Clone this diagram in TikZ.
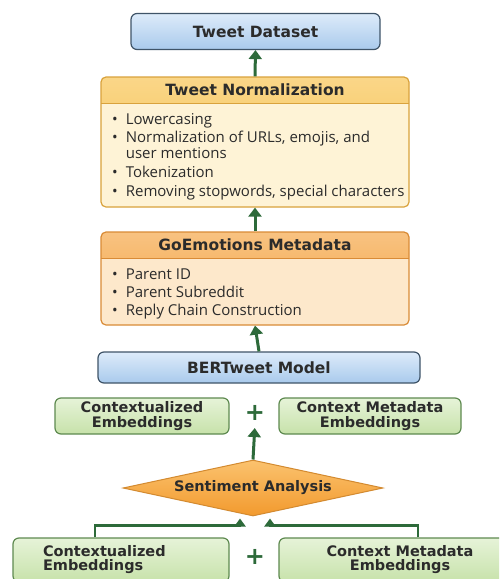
\documentclass[tikz,border=0pt]{standalone}
\usepackage{fontspec}
\setmainfont{Open Sans}
\newfontfamily\headfont{DejaVu Sans}
\usetikzlibrary{arrows.meta,positioning,shapes.geometric,calc}

\definecolor{blueTop}{HTML}{DDEBFA}
\definecolor{blueBot}{HTML}{A9CAEC}
\definecolor{blueLine}{HTML}{3F5468}
\definecolor{yelHead}{HTML}{F7C048}
\definecolor{yelBody}{HTML}{FEF3D6}
\definecolor{yelLine}{HTML}{D9A23C}
\definecolor{orgHead}{HTML}{F4A23E}
\definecolor{orgBody}{HTML}{FDE8CB}
\definecolor{orgLine}{HTML}{D98B36}
\definecolor{grnTop}{HTML}{E6F3D8}
\definecolor{grnBot}{HTML}{C7E2AA}
\definecolor{grnLine}{HTML}{5E8A50}
\definecolor{diaTop}{HTML}{FBC26E}
\definecolor{diaBot}{HTML}{F29A2E}
\definecolor{diaLine}{HTML}{D38A30}
\definecolor{arrGrn}{HTML}{2D6A3A}
\definecolor{inkDark}{HTML}{2B2B2B}

\begin{document}
\begin{tikzpicture}[x=1pt, y=-1pt,
    bluebox/.style={draw=blueLine, line width=1.2pt, rounded corners=6pt,
                    top color=blueTop, bottom color=blueBot, text=inkDark,
                    font=\headfont\bfseries\fontsize{15.5}{18}\selectfont},
    grnbox/.style={draw=grnLine, line width=1.2pt, rounded corners=6pt,
                   top color=grnTop, bottom color=grnBot, align=center, text=inkDark,
                   font=\headfont\bfseries\fontsize{14.5}{15}\selectfont},
    hdrbox/.style n args={3}{draw=#3, fill=#2, line width=1.2pt, rounded corners=5pt,
                   path picture={
                     \fill[top color=#1!65!white, bottom color=#1, sharp corners]
                       (path picture bounding box.north west) rectangle
                       ([yshift=-26pt]path picture bounding box.north east);
                     \draw[#3, line width=0.8pt]
                       ([yshift=-26pt]path picture bounding box.north west) --
                       ([yshift=-26pt]path picture bounding box.north east);}},
    title/.style={text=inkDark, font=\headfont\bfseries\fontsize{15.5}{18}\selectfont},
    list/.style={anchor=base west, inner sep=0pt, text=inkDark,
                 font=\fontsize{15}{15}\selectfont},
    decide/.style={diamond, draw=diaLine, line width=1pt, top color=diaTop,
                   bottom color=diaBot, inner sep=0pt, aspect=4.6, text=inkDark,
                   font=\headfont\bfseries\fontsize{14.5}{16}\selectfont},
    plus/.style={text=arrGrn, font=\headfont\bfseries\fontsize{24}{24}\selectfont},
    arr/.style={-{Triangle[width=13pt,length=9pt]}, line width=3pt, draw=arrGrn},
    link/.style={-{Triangle[width=11pt,length=8pt]}, line width=2.5pt, draw=arrGrn},
  ]
    \useasboundingbox (0,0) rectangle (499,579);
    \clip (0,0) rectangle (499,579);
    \fill[white] (0,0) rectangle (499,579);

    % preprocessing chain
    \node[bluebox, minimum width=249, minimum height=36] (ds) at (255.5,31.5) {Tweet Dataset};

    \node[hdrbox={yelHead}{yelBody}{yelLine}, minimum width=308, minimum height=130] (norm) at (255,142) {};
    \node[title] (normt) at (255,90) {Tweet Normalization};
    \node[list] (norml) at (112,124) {\begin{tabular}[t]{@{}l@{\hspace{8pt}}l@{}}
        \textbullet & Lowercasing\\[3pt]
        \textbullet & Normalization of URLs, emojis, and\\
                    & user mentions\\[3pt]
        \textbullet & Tokenization\\[3pt]
        \textbullet & Removing stopwords, special characters
      \end{tabular}};

    \node[hdrbox={orgHead}{orgBody}{orgLine}, minimum width=308, minimum height=93] (goe) at (255,278.5) {};
    \node[title] (goet) at (255,245) {GoEmotions Metadata};
    \node[list] (goel) at (112,279) {\begin{tabular}[t]{@{}l@{\hspace{8pt}}l@{}}
        \textbullet & Parent ID\\[2.5pt]
        \textbullet & Parent Subreddit\\[2.5pt]
        \textbullet & Reply Chain Construction
      \end{tabular}};

    \node[bluebox, minimum width=322, minimum height=31] (bert) at (259,367.5) {BERTweet Model};

    % embeddings and analysis
    \node[grnbox, minimum width=174, minimum height=36] (emb1l) at (142,416) {Contextualized\\Embeddings};
    \node[plus] (plus1) at (255,413) {+};
    \node[grnbox, minimum width=182, minimum height=36] (emb1r) at (370,416) {Context Metadata\\Embeddings};

    \node[decide, minimum width=260, minimum height=56] (sa) at (253,488) {Sentiment Analysis};

    \node[grnbox, minimum width=216, minimum height=44, text width=156, inner xsep=30,
          align=left, font=\headfont\bfseries\fontsize{14.5}{14}\selectfont] (emb2l) at (121,560) {Contextualized\\Embeddings};
    \node[plus] (plus2) at (255,557) {+};
    \node[grnbox, minimum width=242, minimum height=44,
          font=\headfont\bfseries\fontsize{14.5}{14}\selectfont] (emb2r) at (400,560) {Context Metadata\\Embeddings};

    \draw[arr] (norm.north) -- (ds.south);
    \draw[arr] (goe.north) -- (norm.south);
    \draw[arr] (bert.north) -- (goe.south);
    \draw[arr, shorten >=4pt] (sa.north) -- (plus1.south);
    \draw[link] ([xshift=-26pt]emb2l.north) |- ([xshift=-13pt,yshift=-9pt]sa.south)
                -- ([xshift=-13pt,yshift=-2pt]sa.south);
    \draw[link] ([xshift=18pt]emb2r.north) |- ([xshift=17pt,yshift=-9pt]sa.south)
                -- ([xshift=17pt,yshift=-2pt]sa.south);
  \end{tikzpicture}
\end{document}
